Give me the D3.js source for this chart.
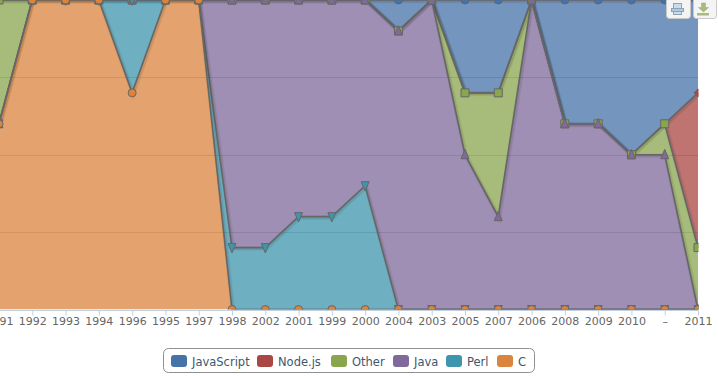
<!DOCTYPE html>
<html>
<head>
<meta charset="utf-8">
<script src="https://cdnjs.cloudflare.com/ajax/libs/d3/7.8.5/d3.min.js"></script>
<style>
  html, body { margin: 0; padding: 0; background: #fff; overflow: hidden; }
  text { font-family: "DejaVu Sans", sans-serif; }
</style>
</head>
<body>
<div id="container"></div>
<script>
/* DATA - share of each language per year, percent */
const years = ["1991","1992","1993","1994","1996","1995","1997","1998","2002","2001","1999","2000","2004","2003","2005","2007","2006","2008","2009","2010","–","2011"]
const javascript = [0,0,0,0,0,0,0,0,0,0,0,0,10,0,30,30,0,40,40,50,40,30]
const nodejs     = [0,0,0,0,0,0,0,0,0,0,0,0,0,0,0,0,0,0,0,0,0,50]
const other      = [40,0,0,0,0,0,0,0,0,0,0,0,0,0,20,40,0,0,0,0,10,20]
const java       = [0,0,0,0,0,0,0,80,80,70,70,60,90,100,50,30,100,60,60,50,50,0]
const perl       = [0,0,0,0,30,0,0,20,20,30,30,40,0,0,0,0,0,0,0,0,0,0]
const c          = [60,100,100,100,70,100,100,0,0,0,0,0,0,0,0,0,0,0,0,0,0,0]
const yTicks = [0, 25, 50, 75, 100]

const names = ["JavaScript","Node.js","Other","Java","Perl","C"]
const colors = ["#4572A7","#AA4643","#89A54E","#80699B","#3D96AE","#DB843D"]
const symbols = ["circle","diamond","square","triangle","triangle-down","circle"]
const values = [javascript, nodejs, other, java, perl, c]

/* CONSTANTS */
const width = 718
const height = 376
const plot = { left: 0, right: 698, top: 0, bottom: 309.5 }
const legendX = [171, 257, 331, 393, 446, 497]

const table = years.map((year, i) => {
  const row = { year }
  names.forEach((n, s) => { row[n] = values[s][i] })
  return row
})

/* SCALES */
const xScale = d3.scalePoint().domain(years).range([-1, plot.right])
const yScale = d3.scaleLinear().domain([0, 100]).range([plot.bottom, plot.top])

// C sits at the bottom of the stack, JavaScript at the top
const stacked = d3.stack().keys(names.slice().reverse())(table)

const svg = d3.select("#container").append("svg")
  .attr("width", width)
  .attr("height", height)
  .style("display", "block")

svg.append("clipPath").attr("id", "plot-clip").append("rect")
  .attr("x", plot.left).attr("y", plot.top - 1)
  .attr("width", plot.right - plot.left + 0.5)
  .attr("height", plot.bottom - plot.top + 1)

// gridlines
svg.append("g").selectAll("line")
  .data(yTicks.slice(1, -1))
  .join("line")
  .attr("x1", plot.left).attr("x2", plot.right)
  .attr("y1", d => Math.round(yScale(d)) + 0.5)
  .attr("y2", d => Math.round(yScale(d)) + 0.5)
  .attr("stroke", "#C0C0C0")

// x axis
const xAxis = d3.axisBottom(xScale).tickSize(5).tickSizeOuter(0).tickPadding(2)
const axisG = svg.append("g")
  .attr("transform", `translate(0,${Math.round(plot.bottom) + 0.5})`)
  .call(xAxis)
axisG.select(".domain").attr("stroke", "#C0D0E0").attr("d", `M0,0H${plot.right}`)
axisG.selectAll(".tick line").attr("stroke", "#C0D0E0")
axisG.selectAll(".tick text").attr("fill", "#666666").style("font-size", "11px")

/* AREAS */
const area = d3.area()
  .x(d => xScale(d.data.year))
  .y0(d => yScale(d[0]))
  .y1(d => yScale(d[1]))
const topLine = d3.line()
  .x(d => xScale(d.data.year))
  .y(d => yScale(d[1]))

const colorOf = name => colors[names.indexOf(name)]
const plotG = svg.append("g").attr("clip-path", "url(#plot-clip)")

// JavaScript first so the markers of the lower series land on top
const layers = stacked.slice().reverse()
layers.forEach(layer => {
  const g = plotG.append("g")
  g.append("path")
    .attr("d", area(layer))
    .attr("fill", colorOf(layer.key))
    .attr("fill-opacity", 0.75)
  // soft shadow under the outline
  ;[[5, .04], [3, .07]].forEach(([w, o]) => {
    g.append("path")
      .attr("d", topLine(layer))
      .attr("transform", "translate(1,1)")
      .attr("fill", "none")
      .attr("stroke", "#000")
      .attr("stroke-width", w)
      .attr("stroke-opacity", o)
  })
  g.append("path")
    .attr("d", topLine(layer))
    .attr("fill", "none")
    .attr("stroke", "#666666")
    .attr("stroke-width", 1.6)
})

/* MARKERS */
// marker shapes with a 4px radius
const r = 4
const shape = draw => d3.symbol().type({ draw })()
const symbolPath = {
  "circle": d3.symbol().type(d3.symbolCircle).size(Math.PI * r * r)(),
  "square": d3.symbol().type(d3.symbolSquare).size(4 * r * r)(),
  "diamond": shape(p => { p.moveTo(0, -r); p.lineTo(r, 0); p.lineTo(0, r); p.lineTo(-r, 0); p.closePath() }),
  "triangle": shape(p => { p.moveTo(0, -r * 1.33); p.lineTo(r, r); p.lineTo(-r, r); p.closePath() }),
  "triangle-down": shape(p => { p.moveTo(-r, -r); p.lineTo(r, -r); p.lineTo(0, r * 1.33); p.closePath() })
}
layers.forEach(layer => {
  const s = names.indexOf(layer.key)
  plotG.append("g").selectAll("path")
    .data(layer)
    .join("path")
    .attr("d", symbolPath[symbols[s]])
    .attr("transform", d => `translate(${xScale(d.data.year)},${yScale(d[1])})`)
    .attr("fill", colors[s])
    .attr("stroke", "#666666")
    .attr("stroke-width", 1)
})

/* LEGEND */
svg.append("rect")
  .attr("x", 163.5).attr("y", 348.5)
  .attr("width", 371).attr("height", 24)
  .attr("rx", 5)
  .attr("fill", "#fff")
  .attr("stroke", "#909090")

const legend = svg.append("g").selectAll("g")
  .data(names)
  .join("g")
  .attr("transform", (d, i) => `translate(${legendX[i]},355)`)
legend.append("rect")
  .attr("width", 16).attr("height", 12).attr("rx", 3)
  .attr("fill", (d, i) => colors[i])
legend.append("text")
  .attr("x", 21).attr("y", 11)
  .attr("fill", "#3E576F")
  .style("font-size", "11.5px")
  .text(d => d)

/* EXPORT BUTTONS */
const buttons = svg.append("g")
;[[666, 24], [693, 23]].forEach(([x, w]) => {
  buttons.append("rect")
    .attr("x", x + 0.5).attr("y", -2.5)
    .attr("width", w).attr("height", 21).attr("rx", 3)
    .attr("fill", "#f4f4f4").attr("stroke", "#c8c8c8")
})
// print icon
buttons.append("rect").attr("x", 673.5).attr("y", 3.5).attr("width", 8).attr("height", 5).attr("fill", "#c9dcea").attr("stroke", "#8fa3b3")
buttons.append("rect").attr("x", 671.5).attr("y", 8.5).attr("width", 12).attr("height", 3).attr("fill", "#aecbe0").attr("stroke", "#8fa3b3")
buttons.append("rect").attr("x", 673.5).attr("y", 11.5).attr("width", 8).attr("height", 3).attr("fill", "#c9dcea").attr("stroke", "#8fa3b3")
// download icon
buttons.append("path").attr("d", "M701.5,3h4v4.5h3l-5,4.5l-5,-4.5h3z").attr("fill", "#a9ba7a").attr("stroke", "#98a876").attr("stroke-width", .5)
buttons.append("rect").attr("x", 697).attr("y", 13).attr("width", 12).attr("height", 2.5).attr("fill", "#a9ba7a")
</script>
</body>
</html>
